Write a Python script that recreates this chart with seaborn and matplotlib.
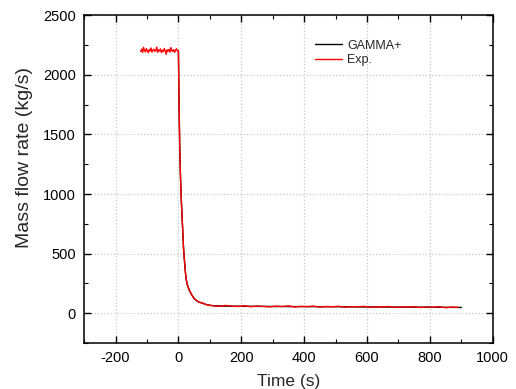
import matplotlib
matplotlib.use("Agg")
import matplotlib.pyplot as plt
from matplotlib.ticker import MultipleLocator
import numpy as np
import pandas as pd
import seaborn as sns

# GAMMA+ calculation (kg/s vs s)
gamma_t = [0, 2, 4, 6, 8, 10, 12, 14, 16, 18, 20, 22, 24, 28, 35, 42, 50, 56, 65, 77, 88, 99,
           110, 130, 150, 200, 300, 400, 500, 600, 700, 800, 900]
gamma_m = [2200, 1750, 1420, 1200, 1030, 900, 790, 680, 560, 480, 420, 350, 300, 240, 192, 155,
           125, 109, 95, 84, 74, 67, 64, 62, 60, 59, 57, 56, 55, 53, 52, 51, 49]

# Experiment: steady part before the break
exp_pre_t = np.arange(-120, 0, 3)
exp_pre_m = [2195, 2215, 2188, 2230, 2205, 2192, 2220, 2200, 2185, 2212, 2198, 2225, 2190, 2208,
             2215, 2196, 2203, 2232, 2188, 2210, 2199, 2217, 2186, 2206, 2194, 2221, 2201, 2172,
             2210, 2198, 2213, 2190, 2228, 2204, 2196, 2211, 2189, 2207, 2218, 2200]
# Experiment: blowdown
exp_drop_t = [0, 2, 4, 6, 8, 10, 12, 14, 16, 18, 20, 22, 24, 28, 35, 42, 50, 56, 65, 77, 88, 99]
exp_drop_m = [2205, 1760, 1430, 1195, 1025, 905, 785, 685, 555, 485, 415, 355, 295, 245, 188, 158,
              122, 111, 93, 86, 72, 68]
# Experiment: tail
exp_tail_t = np.arange(110, 900, 20)
exp_tail_m = [62, 58, 66, 60, 57, 63, 55, 61, 58, 54, 60, 57, 62, 53, 58, 56, 60, 52, 57, 55,
              59, 51, 56, 54, 58, 50, 55, 53, 57, 49, 54, 52, 56, 48, 53, 51, 55, 47, 52, 50]

gamma = pd.DataFrame({"t": gamma_t, "m": gamma_m})
exp = pd.DataFrame({"t": list(exp_pre_t) + exp_drop_t + list(exp_tail_t),
                    "m": exp_pre_m + exp_drop_m + exp_tail_m})

sns.set_theme(style="ticks")
plt.rcParams["font.family"] = ["Liberation Sans", "DejaVu Sans"]
plt.rcParams["axes.unicode_minus"] = False

fig = plt.figure(figsize=(5.16, 3.89), dpi=100)
ax = fig.add_axes([0.163, 0.118, 0.792, 0.843])

sns.lineplot(data=gamma, x="t", y="m", color="black", lw=1, label="GAMMA+", ax=ax, sort=False)
sns.lineplot(data=exp, x="t", y="m", color="red", lw=1, label="Exp.", ax=ax, sort=False)

ax.set_xlim(-300, 1000)
ax.set_ylim(-250, 2500)
ax.xaxis.set_major_locator(MultipleLocator(200))
ax.xaxis.set_minor_locator(MultipleLocator(100))
ax.yaxis.set_major_locator(MultipleLocator(500))
ax.yaxis.set_minor_locator(MultipleLocator(250))
ax.tick_params(which="both", top=True, right=True, direction="in", labelsize=10.5,
               colors="black", pad=6)
ax.tick_params(which="major", length=5, width=1)
ax.tick_params(which="minor", length=3, width=0.8)
ax.grid(True, which="major", ls=":", color="#c8c8c8", lw=0.9)
for s in ax.spines.values():
    s.set_linewidth(1.1)
    s.set_color("black")

ax.set_xlabel("Time (s)", fontsize=12.5, labelpad=6)
ax.set_ylabel("Mass flow rate (kg/s)", fontsize=14)
ax.yaxis.set_label_coords(-0.125, 0.567)

ax.legend(loc="upper left", bbox_to_anchor=(0.537, 0.96), frameon=False, fontsize=9,
          handlelength=2.2, handletextpad=0.4, labelspacing=0.2)

fig.savefig("out.png", dpi=100)
